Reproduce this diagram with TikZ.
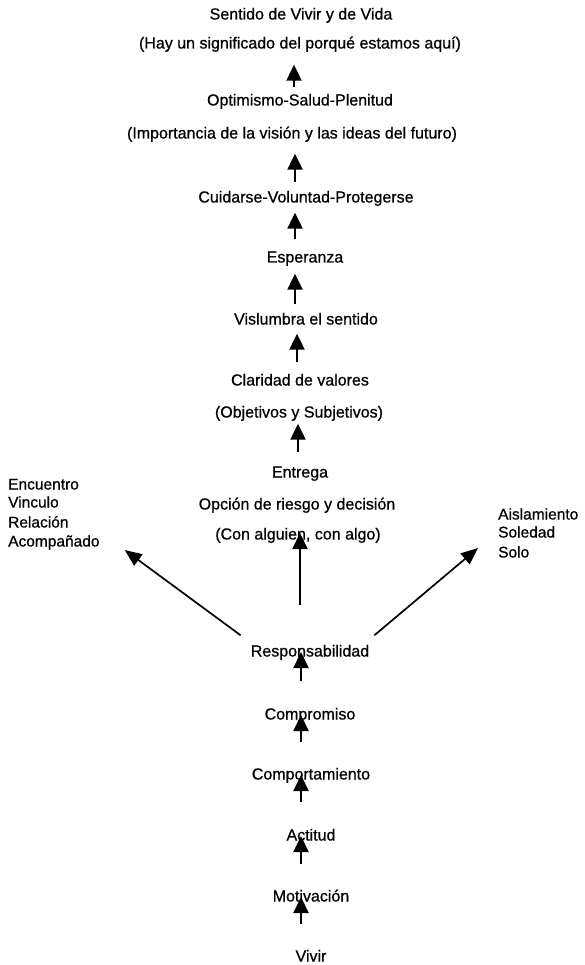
\documentclass[tikz,border=0pt]{standalone}
\usepackage{fontspec}
\setmainfont{Liberation Sans}[FakeBold=0.7]
\usetikzlibrary{arrows.meta}
\begin{document}
\begin{tikzpicture}[x=1pt,y=-1pt,
    every node/.style={font=\fontsize{16}{19}\selectfont,inner sep=0pt,text height=12pt,text depth=3pt},
    side/.style={anchor=west,font=\fontsize{15.5}{18}\selectfont},
    up/.style={-{Triangle[width=15pt,length=16pt]},line width=2.2pt},
    slant/.style={-{Triangle[width=14pt,length=17pt]},line width=1.7pt}]
    \useasboundingbox (0,0) rectangle (585,965);
    \node (sentido) at (301,15) {Sentido de Vivir y de Vida};
    \node (hay) at (300,44) {(Hay un significado del porqué estamos aquí)};
    \node (optim) at (300,101) {Optimismo-Salud-Plenitud};
    \node (import) at (292,134) {(Importancia de la visión y las ideas del futuro)};
    \node (cuid) at (306,198) {Cuidarse-Voluntad-Protegerse};
    \node (esper) at (305,258) {Esperanza};
    \node (vislum) at (306,320) {Vislumbra el sentido};
    \node (clarid) at (300,381) {Claridad de valores};
    \node (objet) at (299,413) {(Objetivos y Subjetivos)};
    \node (entrega) at (300,473) {Entrega};
    \node (opcion) at (297,505) {Opción de riesgo y decisión};
    \node (conalg) at (298,535) {(Con alguien, con algo)};
    \node (resp) at (310,652) {Responsabilidad};
    \node (compr) at (310,715) {Compromiso};
    \node (comport) at (311,775) {Comportamiento};
    \node (actit) at (311,836) {Actitud};
    \node (motiv) at (311,897) {Motivación};
    \node (vivir) at (311,957) {Vivir};
    \node[side] (encu) at (8,485) {Encuentro};
    \node[side] (vinc) at (8,503) {Vinculo};
    \node[side] (rela) at (8,523) {Relación};
    \node[side] (acomp) at (8,542) {Acompañado};
    \node[side] (aisl) at (498,515) {Aislamiento};
    \node[side] (soled) at (498,533) {Soledad};
    \node[side] (solo) at (498,553) {Solo};
    \draw[up] ([xshift=-6pt,yshift=6pt]optim.north) -- ([xshift=-6pt,yshift=-13pt]hay.south);
    \draw[up] ([xshift=-11pt,yshift=8pt]cuid.north) -- ([xshift=3pt,yshift=-12pt]import.south);
    \draw[up] ([xshift=-10pt,yshift=11pt]esper.north) -- ([xshift=-11pt,yshift=-7pt]cuid.south);
    \draw[up] ([xshift=-11pt,yshift=8pt]vislum.north) -- ([xshift=-10pt,yshift=-8pt]esper.south);
    \draw[up] ([xshift=-3pt,yshift=11pt]clarid.north) -- ([xshift=-9pt,yshift=-6pt]vislum.south);
    \draw[up] ([xshift=-2pt,yshift=13pt]entrega.north) -- ([xshift=-1pt,yshift=-3pt]objet.south);
    \draw[up] ([xshift=-10pt,yshift=39pt]resp.north) -- ([xshift=2pt,yshift=2pt]conalg.center);
    \draw[slant] ([xshift=-10pt,yshift=9pt]resp.north west) -- ([xshift=25pt,yshift=-8pt]acomp.east);
    \draw[slant] ([xshift=5pt,yshift=9pt]resp.north east) -- ([xshift=-20pt,yshift=5pt]solo.west);
    \draw[up] ([xshift=-9pt,yshift=26pt]compr.north) -- ([xshift=-9pt]resp.center);
    \draw[up] ([xshift=-10pt,yshift=25pt]comport.north) -- ([xshift=-9pt]compr.center);
    \draw[up] ([xshift=-10pt,yshift=26pt]actit.north) -- ([xshift=-10pt]comport.center);
    \draw[up] ([xshift=-10pt,yshift=25pt]motiv.north) -- ([xshift=-10pt]actit.center);
    \draw[up] ([xshift=-10pt,yshift=25pt]vivir.north) -- ([xshift=-10pt]motiv.center);
\end{tikzpicture}
\end{document}
